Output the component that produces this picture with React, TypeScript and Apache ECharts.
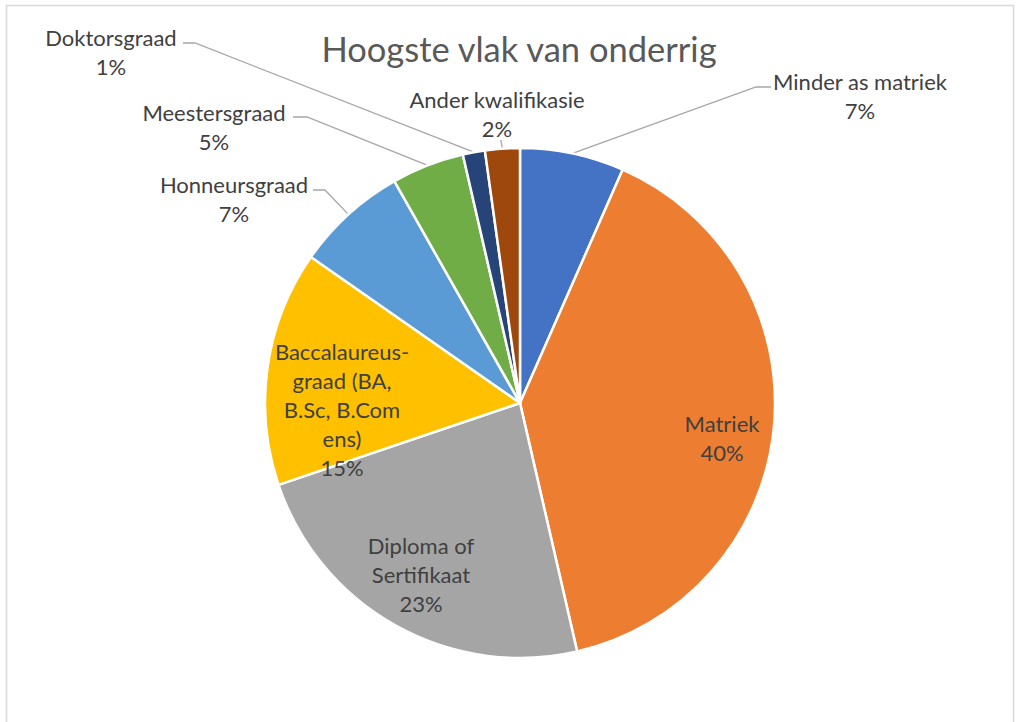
import React, { useEffect, useRef } from "react";
import * as echarts from "echarts";

const categories = [
  "Minder as matriek",
  "Matriek",
  "Diploma of Sertifikaat",
  "Baccalaureus-graad (BA, B.Sc, B.Com ens)",
  "Honneursgraad",
  "Meestersgraad",
  "Doktorsgraad",
  "Ander kwalifikasie",
];
const displayNames = [
  "Minder as matriek",
  "Matriek",
  "Diploma of\nSertifikaat",
  "Baccalaureus-\ngraad (BA,\nB.Sc, B.Com\nens)",
  "Honneursgraad",
  "Meestersgraad",
  "Doktorsgraad",
  "Ander kwalifikasie",
];
const values = [6.6, 39.8, 23.4, 14.9, 7.1, 4.6, 1.4, 2.2];
const colors = ["#4472C4", "#ED7D31", "#A5A5A5", "#FFC000", "#5B9BD5", "#70AD47", "#264478", "#9E480E"];
const insideLabels = [false, true, true, true, false, false, false, false];

// label placement (center of text block) and leader-line bend points
const labelLayoutTable: { x: number; y: number; line?: number[][] }[] = [
  { x: 860, y: 96, line: [[756, 87], [771, 87]] },
  { x: 722, y: 438 },
  { x: 421, y: 574 },
  { x: 342, y: 409 },
  { x: 234, y: 199, line: [[325, 190], [313, 190]] },
  { x: 214, y: 127, line: [[307, 117], [293, 117]] },
  { x: 111, y: 52, line: [[195, 43], [183, 43]] },
  { x: 497, y: 114, line: [[501, 141], [501, 140]] },
];

const FONT = "Lato";

export default function App() {
  const ref = useRef<HTMLDivElement>(null);
  useEffect(() => {
    if (!ref.current) return;
    const chart = echarts.init(ref.current, undefined, { renderer: "svg" });
    chart.setOption({
      animation: false,
      backgroundColor: "#FFFFFF",
      title: {
        text: "Hoogste vlak van onderrig",
        left: 514,
        textAlign: "center",
        top: 26,
        textStyle: { fontFamily: FONT, fontSize: 34.5, fontWeight: "normal", color: "#595959" },
      },
      graphic: [
        {
          type: "rect",
          shape: { x: 6.5, y: 5.5, width: 1007, height: 730 },
          style: { fill: "none", stroke: "#D9D9D9", lineWidth: 1.5 },
          silent: true,
        },
      ],
      series: [
        {
          type: "pie",
          center: [520, 403],
          radius: [0, 255],
          startAngle: 90,
          clockwise: true,
          percentPrecision: 0,
          avoidLabelOverlap: false,
          itemStyle: { borderColor: "#FFFFFF", borderWidth: 2.5 },
          label: {
            show: true,
            fontFamily: FONT,
            fontSize: 22,
            lineHeight: 29,
            color: "#404040",
            align: "center",
          },
          labelLine: { show: true, lineStyle: { color: "#A6A6A6", width: 1.3 } },
          labelLayout: (params: any) => {
            const l = labelLayoutTable[params.dataIndex];
            const out: any = { x: l.x, y: l.y, align: "center", verticalAlign: "middle" };
            if (l.line && params.labelLinePoints) {
              const s = params.labelLinePoints[0];
              out.labelLinePoints = [s, l.line[0], l.line[1]];
            }
            return out;
          },
          data: categories.map((c, i) => ({
            name: c,
            value: values[i],
            itemStyle: { color: colors[i] },
            label: {
              position: insideLabels[i] ? "inside" : "outside",
              formatter: (p: any) => `${displayNames[p.dataIndex]}\n${p.percent}%`,
            },
            labelLine: { show: !insideLabels[i] },
          })),
        },
      ],
    });
    return () => chart.dispose();
  }, []);
  return <div ref={ref} style={{ position: "absolute", left: 0, top: 0, width: 1021, height: 722 }} />;
}
